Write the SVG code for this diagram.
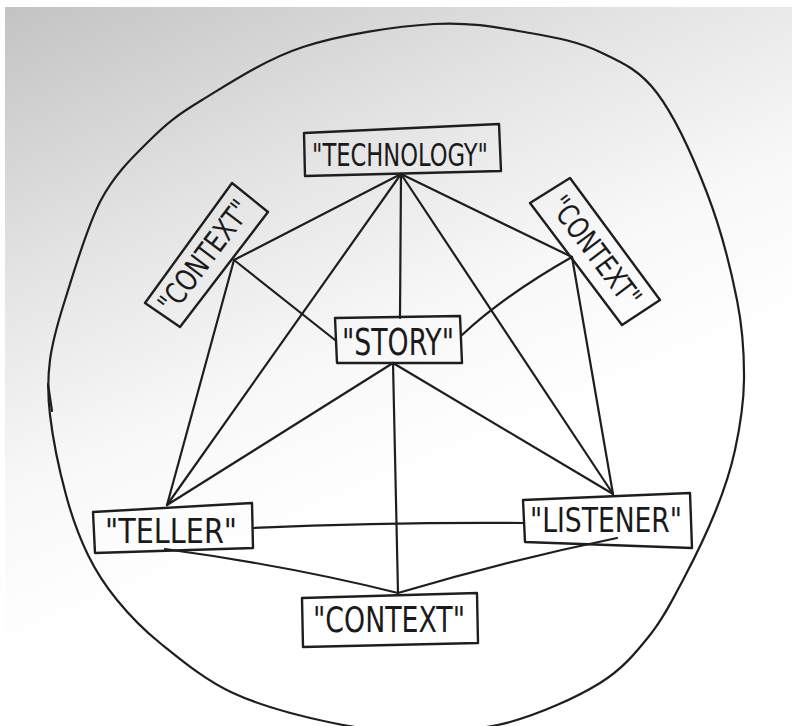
<svg xmlns="http://www.w3.org/2000/svg" width="792" height="726" viewBox="0 0 792 726">
<defs>
<linearGradient id="paper" gradientUnits="userSpaceOnUse" x1="0" y1="0" x2="300" y2="700">
<stop offset="0" stop-color="#c2c2c2"/>
<stop offset="0.35" stop-color="#e4e4e4"/>
<stop offset="0.6" stop-color="#f8f8f8"/>
<stop offset="0.8" stop-color="#ffffff"/>
</linearGradient>
<style>
.ink{fill:none;stroke:#1e1e1e;stroke-width:2.2;stroke-linecap:round;stroke-linejoin:round}
.box{fill:none;stroke:#1e1e1e;stroke-width:2.4;stroke-linejoin:round}
.lbl{font-family:"Liberation Sans Narrow","DejaVu Sans Condensed","Liberation Sans",sans-serif;fill:#1a1a1a;text-anchor:middle}
</style>
</defs>
<rect width="792" height="726" fill="#ffffff"/>
<rect x="5" y="7" width="787" height="719" fill="url(#paper)"/>
<g id="loop">
<path class="ink" d="M434,24 C471.8,21.7 502.3,28.3 530,33 C557.7,37.7 578.8,42 600,52 C621.2,62 639.2,69.5 657,93 C674.8,116.5 693.7,158.5 707,193 C720.3,227.5 730.8,268.8 737,300 C743.2,331.2 744.3,355 744,380 C743.7,405 739.7,428.3 735,450 C730.3,471.7 724.7,488.3 716,510 C707.3,531.7 694,559.2 683,580 C672,600.8 663.8,617.8 650,635 C636.2,652.2 623.3,668.5 600,683 C576.7,697.5 540,713.8 510,722 C480,730.2 449.5,731.8 420,732 C390.5,732.2 364.2,729.5 333,723 C301.8,716.5 261.8,706.3 233,693 C204.2,679.7 179.3,658.5 160,643 C140.7,627.5 129,614.7 117,600 C105,585.3 96.5,572.5 88,555 C79.5,537.5 72.3,518.3 66,495 C59.7,471.7 52.7,437.5 50,415 C47.3,392.5 47.5,379.2 50,360 C52.5,340.8 56.5,326.7 65,300 C73.5,273.3 86.8,226.7 101,200 C115.2,173.3 133.2,156.7 150,140 C166.8,123.3 176.5,115.5 202,100 C227.5,84.5 264.3,59.7 303,47 C341.7,34.3 396.2,26.3 434,24 Z"/>
<path class="ink" d="M48,384 L52,411"/>
</g>
<g id="connectors">
<path class="ink" d="M401,174 L234,260"/>
<path class="ink" d="M401,174 L167,505"/>
<path class="ink" d="M401,174 L400,318"/>
<path class="ink" d="M401,174 L613,494"/>
<path class="ink" d="M401,174 L572,257"/>
<path class="ink" d="M234,260 L335,340"/>
<path class="ink" d="M234,260 L167,505"/>
<path class="ink" d="M572,257 Q505,295 462,335"/>
<path class="ink" d="M572,257 L613,494"/>
<path class="ink" d="M393,363 L167,505"/>
<path class="ink" d="M393,363 L398,593"/>
<path class="ink" d="M393,363 L613,494"/>
<path class="ink" d="M253,528 Q390,522 523,523"/>
<path class="ink" d="M165,549 Q290,566 398,593"/>
<path class="ink" d="M617,538 Q510,560 398,593"/>
</g>
<g id="technology">
<polygon class="box" points="304,133 499,124 501,171 305,176"/>
<text class="lbl" x="400" y="166" font-size="32" textLength="176" lengthAdjust="spacingAndGlyphs">"TECHNOLOGY"</text>
</g>
<g id="context-left">
<polygon class="box" points="232,183 268,212 180,327 145,303"/>
<text class="lbl" transform="translate(204,256) rotate(-53)" x="0" y="11" font-size="30" textLength="132" lengthAdjust="spacingAndGlyphs">"CONTEXT"</text>
</g>
<g id="context-right">
<polygon class="box" points="570,178 660,300 622,325 530,203"/>
<text class="lbl" transform="translate(596,251) rotate(53)" x="0" y="11" font-size="30" textLength="130" lengthAdjust="spacingAndGlyphs">"CONTEXT"</text>
</g>
<g id="story">
<polygon class="box" points="335,318 460,316 462,363 337,363"/>
<text class="lbl" x="398" y="355" font-size="38" textLength="112" lengthAdjust="spacingAndGlyphs">"STORY"</text>
</g>
<g id="teller">
<polygon class="box" points="93,512 252,503 253,548 95,553"/>
<text class="lbl" x="171" y="543" font-size="34" textLength="132" lengthAdjust="spacingAndGlyphs">"TELLER"</text>
</g>
<g id="listener">
<polygon class="box" points="523,500 690,493 692,548 525,542"/>
<text class="lbl" x="606" y="532" font-size="34" textLength="152" lengthAdjust="spacingAndGlyphs">"LISTENER"</text>
</g>
<g id="context-bottom">
<polygon class="box" points="302,598 477,593 478,643 303,647"/>
<text class="lbl" x="389" y="632" font-size="36" textLength="152" lengthAdjust="spacingAndGlyphs">"CONTEXT"</text>
</g>
</svg>
